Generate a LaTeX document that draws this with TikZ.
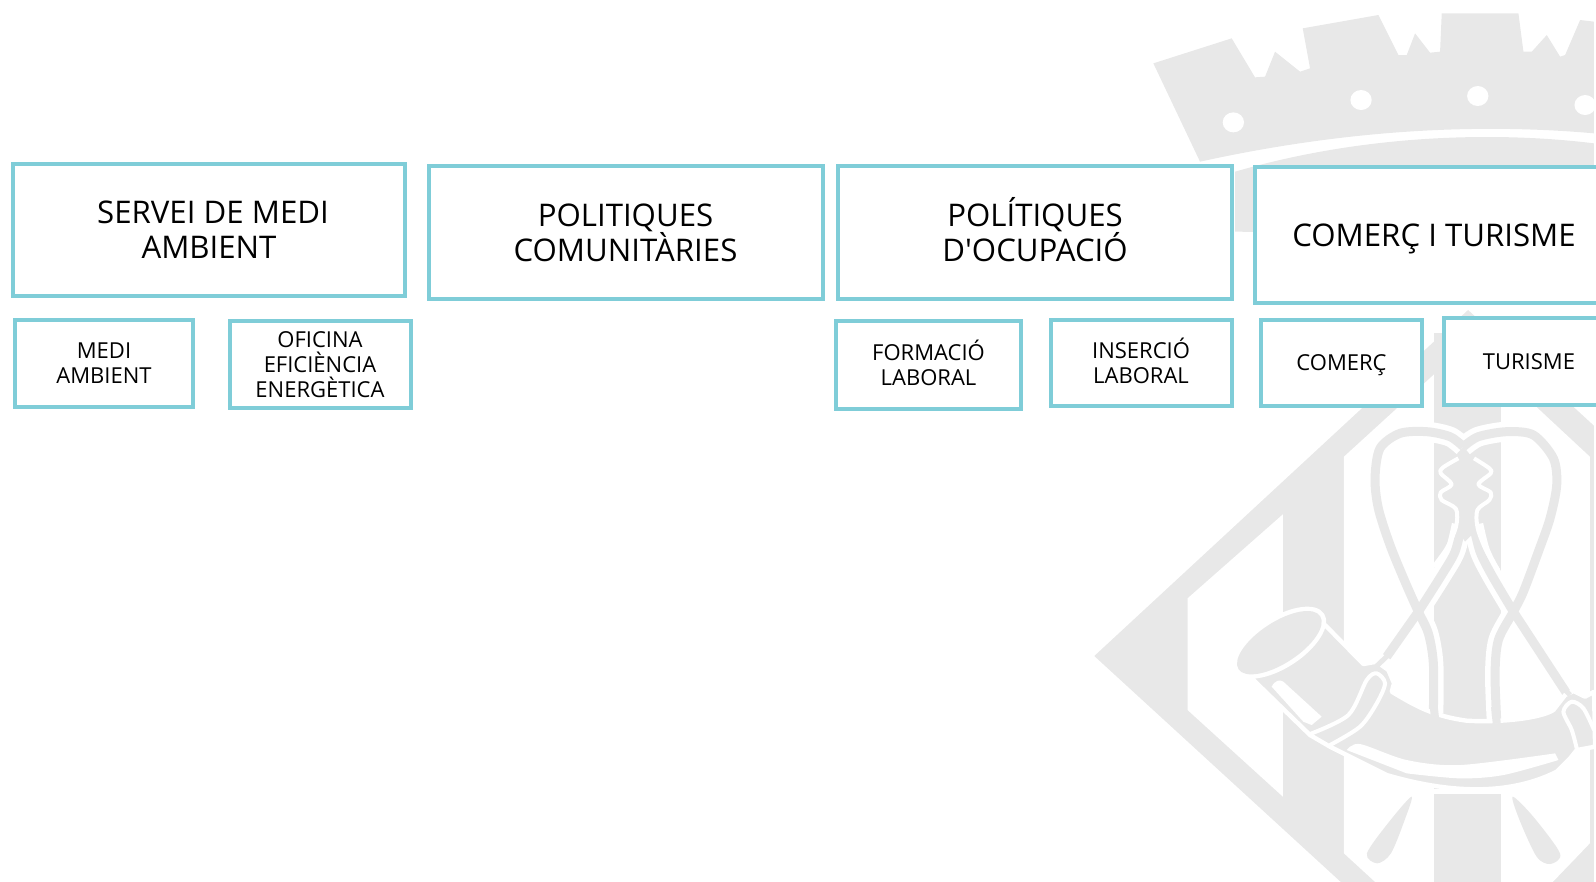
\documentclass[tikz,border=0pt]{standalone}
\usepackage{fontspec}
\setmainfont{Open Sans}
\definecolor{boxline}{HTML}{7FCDD8}
\definecolor{shield}{HTML}{E8E8E8}
\newcommand{\capline}[1]{\smash{#1}\vphantom{H}}
\begin{document}
\begin{tikzpicture}[x=0.5pt, y=-0.5pt,
    main/.style = {draw=boxline, line width=2pt, fill=white, inner sep=0pt, align=center, font=\fontsize{15.6}{17.5}\selectfont},
    sub/.style = {draw=boxline, line width=2pt, fill=white, inner sep=0pt, align=center, font=\fontsize{11}{12.6}\selectfont},
    cut/.style = {white, line width=2pt, line join=round},
    gap/.style = {white, line width=10pt},
    blade/.style = {shield, line width=4.5pt}]
    \useasboundingbox (0,0) rectangle (1596,882);
    \clip (0,0) rectangle (1596,882);

    % crown
    \begin{scope}[shift={(1100,0)}, x=0.1667pt, y=-0.1667pt]
        \fill[shield] (160,190) -- (395,115) -- (465,232) -- (495,230) -- (525,155) -- (600,215) -- (630,205) -- (608,85)
            -- (835,45) -- (895,165) -- (920,165) -- (945,100) -- (990,158) -- (1020,155) -- (1025,40) -- (1255,40)
            -- (1270,155) -- (1295,155) -- (1340,105) -- (1380,170) -- (1395,165) -- (1440,60) -- (1482,65) -- (1482,400)
            .. controls (1200,375) and (800,375) .. (300,485) -- cycle;
        \fill[shield] (405,515) .. controls (800,400) and (1200,395) .. (1482,430) -- (1482,700) -- (405,695) -- cycle;
        \foreach \hx/\hy in {400/367, 783/300, 1133/288, 1455/315}
            \fill[white] (\hx,\hy) ellipse (32 and 30);
    \end{scope}

    % shield
    \begin{scope}[shift={(1060,400)}, x=0.17147pt, y=-0.16667pt]
        \fill[shield] (100,768) -- (1190,-270) -- (1560,80) -- (1560,1480) -- (855,1480) -- cycle;
        \fill[white] (372,595) -- (650,343) -- (650,1190) -- (372,930) -- cycle;
        \fill[white] (828,170) -- (1190,-170) -- (1545,170) -- (1545,1330) -- (1405,1480) -- (955,1480) -- (828,1360) -- cycle;
        \fill[shield] (1090,-200) rectangle (1285,1480);
        \fill[shield] plot[smooth cycle] coordinates {(1025,1190) (1005,1260) (965,1360) (925,1390) (895,1360) (960,1265)};
        \fill[shield] plot[smooth cycle] coordinates {(1320,1190) (1340,1260) (1390,1370) (1430,1392) (1458,1360) (1380,1250)};
    \end{scope}

    % shears
    \begin{scope}[shift={(1350,405)}, x=0.1667pt, y=-0.1667pt]
        \foreach \rr in {gap, blade}{
            \draw[\rr] plot[smooth] coordinates {(340,125) (300,95) (230,80) (150,85) (90,130) (75,220) (85,310) (120,420) (165,530) (205,620) (235,685) (250,775) (250,925)};
            \draw[\rr] plot[smooth] coordinates {(340,125) (385,95) (470,80) (550,90) (610,160) (620,240) (600,340) (565,440) (520,560) (490,620) (445,705) (435,805) (440,945)};
            \draw[\rr] plot[smooth] coordinates {(335,360) (315,440) (275,510) (205,620)} -- (110,755);
            \draw[\rr] plot[smooth] coordinates {(370,360) (390,440) (425,510) (490,620)} -- (650,865);
        }
        \fill[shield] (340,125) -- (325,165) -- (285,190) -- (310,238) -- (285,268) -- (300,295) -- (328,320) -- (322,370) -- (345,410)
            -- (385,370) -- (378,320) -- (405,295) -- (420,268) -- (385,238) -- (415,190) -- (372,165) -- cycle;
        \draw[cut] plot[smooth] coordinates {(325,160) (278,188) (272,205) (305,238) (272,262) (275,285) (318,312) (318,365) (290,430) (250,485)};
        \draw[cut] plot[smooth] coordinates {(372,160) (418,190) (422,205) (385,238) (422,262) (418,285) (382,315) (383,370) (410,440) (445,495)};
    \end{scope}

    % horn
    \begin{scope}[shift={(1220,590)}, x=0.1667pt, y=-0.1667pt]
        \filldraw[fill=shield, draw=white, line width=2.2pt, line join=round] (95,265) -- (315,105) -- (430,222) -- (470,215) -- (505,240) -- (522,280) -- (515,305)
            .. controls (590,350) and (640,378) .. (740,392) .. controls (840,398) and (960,385) .. (1000,360)
            -- (1035,315) -- (1060,303) -- (1095,320) -- (1122,305) -- (1125,470) -- (1070,480) -- (1050,505) -- (1010,545)
            .. controls (900,600) and (740,625) .. (500,555) -- (330,470) -- (270,435) -- cycle;
        \fill[white] (636,598) rectangle (844,612);
        \fill[white, rotate around={33:(178,158)}] (178,158) ellipse (160 and 76);
        \fill[shield, rotate around={33:(178,158)}] (178,158) ellipse (146 and 62);
        \draw[blade, line width=4pt] (640,340) -- (645,385);
        \draw[blade, line width=4pt] (825,350) -- (830,400);
        \draw[blade, line width=2.5pt] (510,190) -- (470,228);
        \draw[blade, line width=2.5pt] (1025,290) -- (1050,315);
        \fill[white] plot[smooth] coordinates {(380,480) (420,462) (560,510) (720,525) (1005,490)} -- (1015,510)
            -- plot[smooth] coordinates {(1015,510) (850,555) (720,565) (560,550)} -- cycle;
        \fill[white] (155,290) .. controls (165,270) and (180,268) .. (190,275) -- (305,380) -- (275,405) -- (250,395) -- cycle;
        \draw[cut] plot[smooth] coordinates {(270,432) (385,375) (440,270) (470,250) (495,280) (470,340) (420,410) (330,465)};
        \draw[cut] plot[smooth] coordinates {(1070,475) (1055,420) (1030,365) (1055,335) (1090,355) (1122,420)};
    \end{scope}
    \fill[white] (1594,0) rectangle (1596,882);

    \node[main, minimum width=196pt, minimum height=66pt] (servei) at (209,230) {\capline{\hspace*{4pt}SERVEI DE MEDI}\\\capline{AMBIENT}};
    \node[main, minimum width=197pt, minimum height=66.5pt] (comunitaries) at (625.5,232.5) {\capline{POLITIQUES}\\\capline{COMUNITÀRIES}};
    \node[main, minimum width=197pt, minimum height=66.5pt] (ocupacio) at (1035,232.5) {\capline{POLÍTIQUES}\\\capline{D\textquotesingle OCUPACIÓ}};
    \node[main, minimum width=179pt, minimum height=68pt] (comerct) at (1434,235) {\capline{COMERÇ I TURISME}};

    \node[sub, minimum width=89pt, minimum height=43.5pt] (medi) at (104,363.5) {\capline{MEDI}\\\capline{AMBIENT}};
    \node[sub, minimum width=90.5pt, minimum height=43.5pt] (oficina) at (320,364.5) {\capline{OFICINA}\\\capline{EFICIÈNCIA}\\\capline{ENERGÈTICA}};
    \node[sub, minimum width=92.5pt, minimum height=43.5pt] (formacio) at (928.5,365) {\capline{FORMACIÓ}\\\capline{LABORAL}};
    \node[sub, minimum width=90.5pt, minimum height=43pt] (insercio) at (1141,363) {\capline{INSERCIÓ}\\\capline{LABORAL}};
    \node[sub, minimum width=80.5pt, minimum height=43pt] (comerc) at (1341.5,363) {\capline{COMERÇ}};
    \node[sub, minimum width=85pt, minimum height=43pt] (turisme) at (1529,361.5) {\capline{TURISME}};
\end{tikzpicture}
\end{document}
